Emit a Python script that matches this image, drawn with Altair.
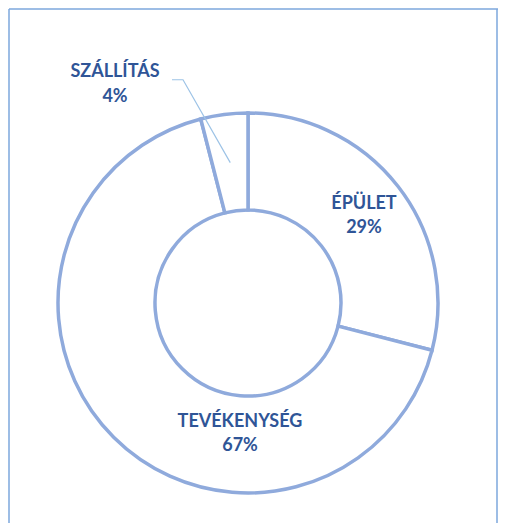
import math
import altair as alt
import pandas as pd

# ---- data ----
categories = ["ÉPÜLET", "TEVÉKENYSÉG", "SZÁLLÍTÁS"]
values = [29, 67, 4]
pct_labels = ["29%", "67%", "4%"]

# ---- layout / style ----
W, H = 490, 515
CX, CY = 240, 295
R_OUT, R_IN = 190, 93
RING = "#8FAADC"
LABEL = "#2F5597"
FRAME = "#7DA7DC"
LEADER = "#9DC3E6"
FONT = "Lato"
FS = 18
LH = 24.5

label_shift_deg = {"ÉPÜLET": 0.9, "TEVÉKENYSÉG": -41.5, "SZÁLLÍTÁS": -24.1}
label_radius = {"ÉPÜLET": 145, "TEVÉKENYSÉG": 131, "SZÁLLÍTÁS": 256}

df = pd.DataFrame({"cat": categories, "val": values, "pct": pct_labels,
                   "order": list(range(len(categories)))})

total = sum(values)
mids, lx, ly, lab = [], [], [], []
cum = 0
for c, v, p in zip(categories, values, pct_labels):
    mid = (cum + v / 2) / total * 2 * math.pi
    cum += v
    mids.append(mid)
    a = mid + math.radians(label_shift_deg[c])
    r = label_radius[c]
    lx.append(CX + r * math.sin(a))
    ly.append(CY - r * math.cos(a))
    lab.append(c + "\n" + p)
# first line is drawn at y: move it up by half a line so the block is centred
lab_df = pd.DataFrame({"label": lab, "x": lx, "y": [v - LH / 2 for v in ly]})

# leader line for the small slice
i = 2
m = mids[i]
rm = (R_OUT + R_IN) / 2
lead_df = pd.DataFrame({
    "k": [0, 1, 2],
    "x": [lx[i] + 57, lx[i] + 68, CX + rm * math.sin(m)],
    "y": [ly[i] - 4.5, ly[i] - 4.5, CY - rm * math.cos(m)],
})

arc = alt.Chart(df).mark_arc(innerRadius=R_IN, outerRadius=R_OUT, fill="white",
                             stroke=RING, strokeWidth=3.5).encode(
    theta=alt.Theta("val:Q", stack=True),
    order=alt.Order("order:Q"),
    x=alt.value(CX), y=alt.value(CY),
)

text = alt.Chart(lab_df).mark_text(font=FONT, fontWeight="bold", fontSize=FS,
                                   color=LABEL, lineBreak="\n", lineHeight=LH,
                                   align="center", baseline="middle").encode(
    x=alt.X("x:Q", scale=None), y=alt.Y("y:Q", scale=None), text="label:N")

leader = alt.Chart(lead_df).mark_line(color=LEADER, strokeWidth=1.2).encode(
    x=alt.X("x:Q", scale=None), y=alt.Y("y:Q", scale=None), order="k:Q")

frame_df = pd.DataFrame({"x": [1, 1, W - 1], "y": [1, 1, 1], "x2": [1, W, W - 1],
                         "y2": [H, 1, H]})
frame = alt.Chart(frame_df).mark_rule(color=FRAME, strokeWidth=1.5).encode(
    x=alt.X("x:Q", scale=None), y=alt.Y("y:Q", scale=None),
    x2="x2:Q", y2="y2:Q")

chart = alt.layer(frame, arc, leader, text).properties(
    width=W, height=H, padding=0, autosize=alt.AutoSizeParams(type="none")
).configure_view(stroke=None)

chart.save("out.html", embed_options={"renderer": "svg", "actions": False})
